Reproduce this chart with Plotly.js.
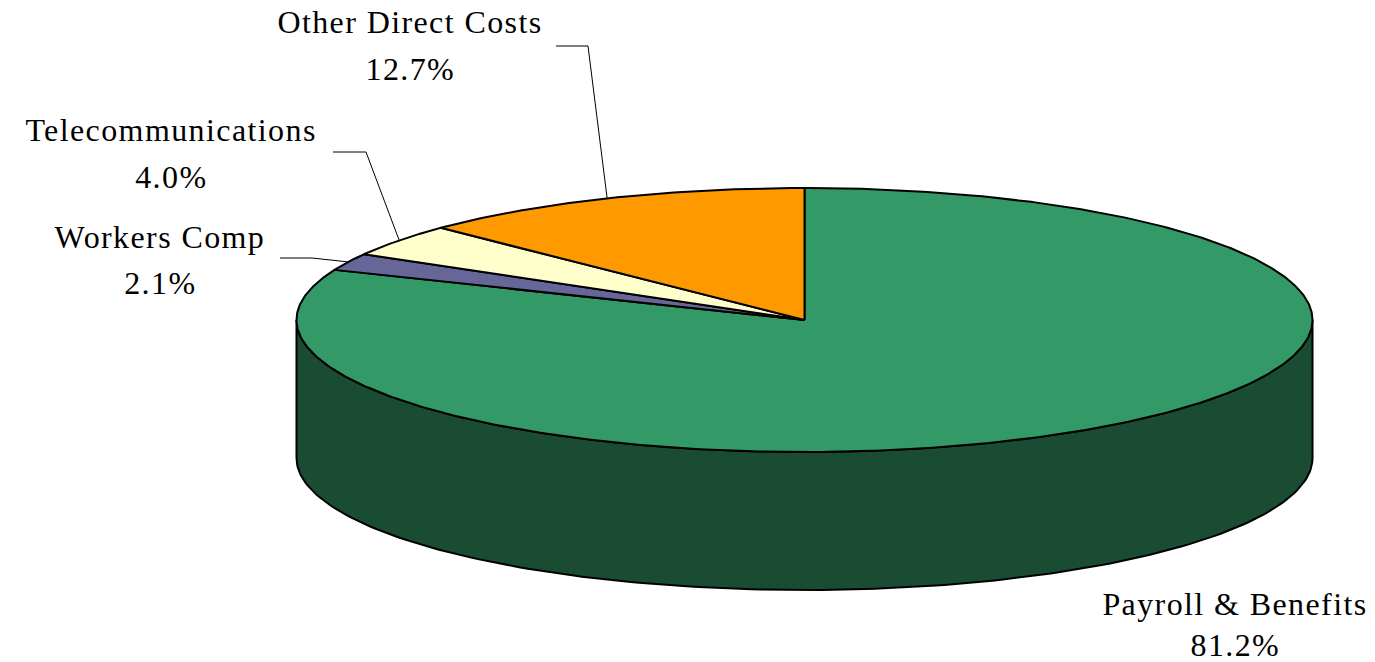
<!DOCTYPE html>
<html>
<head>
<meta charset="utf-8">
<script src="https://cdn.plot.ly/plotly-3.0.1.min.js"></script>
<style>
html,body{margin:0;padding:0;background:#fff;}
#chart{width:1375px;height:662px;}
#chart .annotation-text{letter-spacing:1.4px;}
</style>
</head>
<body>
<div id="chart"></div>
<script>
// ---- data ----
const categories = ["Payroll & Benefits", "Workers Comp", "Telecommunications", "Other Direct Costs"];
const values = [81.2, 2.1, 4.0, 12.7];
const sliceColors = ["#339966", "#666699", "#FFFFCC", "#FF9900"];
const sideColor = "#1A4C33";

// ---- geometry of the tilted pie (pixel space) ----
const W = 1375, H = 662;
const cx = 804.5, cy = 320, rx = 508, ry = 132, depth = 138;

function pt(thetaDeg, dy) {
  const t = thetaDeg * Math.PI / 180;
  return [cx + rx * Math.sin(t), cy - ry * Math.cos(t) + (dy || 0)];
}

const total = values.reduce((a, b) => a + b, 0);
const traces = [];

// side band (front half, visible part)
{
  const xs = [], ys = [];
  for (let a = 90; a <= 270; a += 1) { const p = pt(a, 0); xs.push(p[0]); ys.push(p[1]); }
  for (let a = 270; a >= 90; a -= 1) { const p = pt(a, depth); xs.push(p[0]); ys.push(p[1]); }
  xs.push(xs[0]); ys.push(ys[0]);
  traces.push({type: "scatter", mode: "lines", x: xs, y: ys, fill: "toself",
    fillcolor: sideColor, line: {color: "#000", width: 2}, hoverinfo: "skip", showlegend: false});
}

// top slices, clockwise from 12 o'clock
let cum = 0;
const mids = [];
values.forEach((v, i) => {
  const a0 = cum / total * 360, a1 = (cum + v) / total * 360;
  mids.push((a0 + a1) / 2);
  const xs = [cx], ys = [cy];
  const n = Math.max(4, Math.ceil((a1 - a0) / 0.5));
  for (let k = 0; k <= n; k++) { const p = pt(a0 + (a1 - a0) * k / n); xs.push(p[0]); ys.push(p[1]); }
  xs.push(cx); ys.push(cy);
  traces.push({type: "scatter", mode: "lines", x: xs, y: ys, fill: "toself",
    fillcolor: sliceColors[i], line: {color: "#000", width: 2}, name: categories[i],
    text: categories[i] + " " + v.toFixed(1) + "%", hoverinfo: "text", showlegend: false});
  cum += v;
});

// leader lines: label elbow -> mid-angle point on the rim
const leaders = [
  null,
  {i: 1, x0: 280, x1: 312, y: 258},
  {i: 2, x0: 333, x1: 366, y: 152},
  {i: 3, x0: 556, x1: 588, y: 46}
];
leaders.forEach(l => {
  if (!l) return;
  const p = pt(mids[l.i]);
  traces.push({type: "scatter", mode: "lines", x: [l.x0, l.x1, p[0]], y: [l.y, l.y, p[1]],
    line: {color: "#000", width: 1}, hoverinfo: "skip", showlegend: false});
});

// labels
const labelPos = [
  {x: 1235, yName: 604, yPct: 645},
  {x: 160, yName: 237, yPct: 283},
  {x: 171, yName: 130, yPct: 177},
  {x: 410, yName: 22, yPct: 69}
];
const font = {family: "'Times New Roman', 'Liberation Serif', serif", size: 32, color: "#000"};
const annotations = [];
categories.forEach((c, i) => {
  annotations.push({x: labelPos[i].x, y: labelPos[i].yName, xref: "x", yref: "y", text: c,
    showarrow: false, font: font, xanchor: "center", yanchor: "middle", borderpad: 0});
  annotations.push({x: labelPos[i].x, y: labelPos[i].yPct, xref: "x", yref: "y",
    text: values[i].toFixed(1) + "%", showarrow: false, font: font, xanchor: "center", yanchor: "middle", borderpad: 0});
});

const layout = {
  width: W, height: H,
  margin: {l: 0, r: 0, t: 0, b: 0},
  paper_bgcolor: "#fff", plot_bgcolor: "#fff",
  xaxis: {range: [0, W], visible: false, fixedrange: true},
  yaxis: {range: [H, 0], visible: false, fixedrange: true},
  annotations: annotations,
  showlegend: false
};

Plotly.newPlot("chart", traces, layout, {displayModeBar: false, staticPlot: true});
</script>
</body>
</html>
